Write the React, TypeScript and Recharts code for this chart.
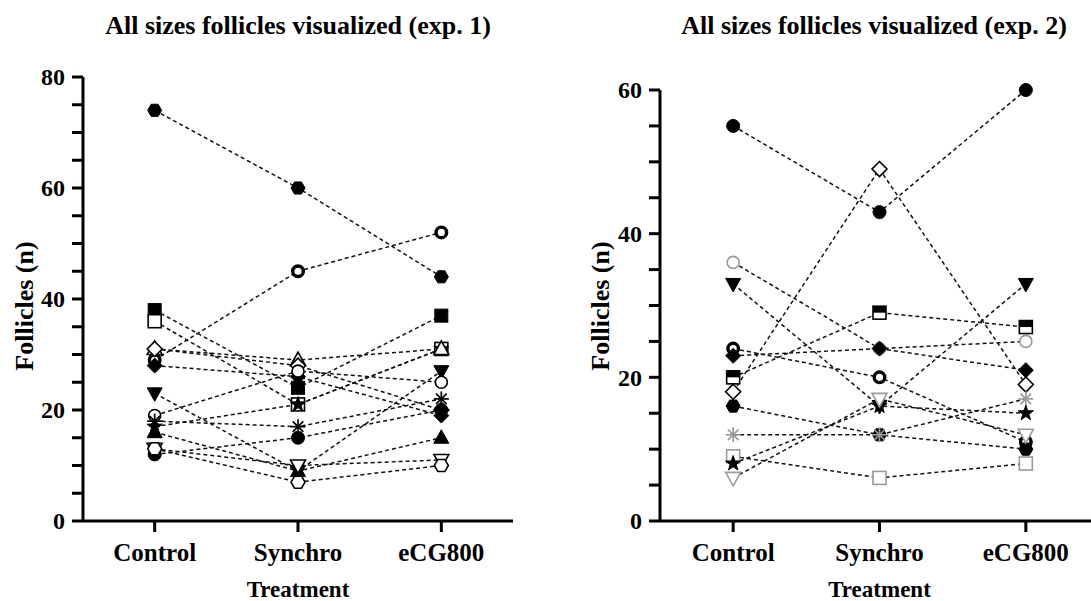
import { Label, Line, LineChart, XAxis, YAxis } from 'recharts'

const TREATMENTS = ['Control', 'Synchro', 'eCG800']

// exp. 1 — one array per animal: Control, Synchro, eCG800
const E1_FILLED_HEX = [74, 60, 44]
const E1_THICK_RING = [29, 45, 52]
const E1_FILLED_SQUARE = [38, 24, 37]
const E1_OPEN_SQUARE = [36, 21, 31]
const E1_STAR = [17, 21, 31]
const E1_OPEN_TRIANGLE = [31, 29, 31]
const E1_OPEN_DIAMOND = [31, 28, 20]
const E1_FILLED_DIAMOND = [28, 26, 19]
const E1_FILLED_INV_TRI = [23, 9, 27]
const E1_OPEN_CIRCLE = [19, 27, 25]
const E1_ASTERISK = [18, 17, 22]
const E1_FILLED_CIRCLE = [12, 15, 20]
const E1_FILLED_TRIANGLE = [16, 9, 15]
const E1_OPEN_INV_TRI = [13, 10, 11]
const E1_OPEN_HEX = [13, 7, 10]

// exp. 2
const E2_FILLED_CIRCLE = [55, 43, 60]
const E2_OPEN_DIAMOND = [18, 49, 19]
const E2_FILLED_INV_TRI = [33, 16, 33]
const E2_GRAY_CIRCLE = [36, 24, 25]
const E2_THICK_RING = [24, 20, 11]
const E2_FILLED_DIAMOND = [23, 24, 21]
const E2_HALF_SQUARE = [20, 29, 27]
const E2_FILLED_HEX = [16, 12, 10]
const E2_GRAY_ASTERISK = [12, 12, 17]
const E2_GRAY_SQUARE = [9, 6, 8]
const E2_STAR = [8, 16, 15]
const E2_GRAY_INV_TRI = [6, 17, 12]

const E1_Y_TICKS = [0, 5, 10, 15, 20, 25, 30, 35, 40, 45, 50, 55, 60, 65, 70, 75, 80]
const E2_Y_TICKS = [0, 5, 10, 15, 20, 25, 30, 35, 40, 45, 50, 55, 60]
const LABELED_EVERY = 20

const BLACK = '#000'
const GRAY = '#9a9a9a'
const FONT = "'Liberation Serif', 'Times New Roman', serif"

type Shape =
  | 'circle' | 'ring' | 'thickRing' | 'square' | 'openSquare' | 'halfSquare'
  | 'triangle' | 'openTriangle' | 'invTriangle' | 'openInvTriangle'
  | 'diamond' | 'openDiamond' | 'hexagon' | 'openHexagon' | 'star' | 'asterisk'

type Series = { key: string; values: number[]; shape: Shape; color?: string }

const EXP1: Series[] = [
  { key: 'fhex', values: E1_FILLED_HEX, shape: 'hexagon' },
  { key: 'tring', values: E1_THICK_RING, shape: 'thickRing' },
  { key: 'fsq', values: E1_FILLED_SQUARE, shape: 'square' },
  { key: 'osq', values: E1_OPEN_SQUARE, shape: 'openSquare' },
  { key: 'star', values: E1_STAR, shape: 'star' },
  { key: 'otri', values: E1_OPEN_TRIANGLE, shape: 'openTriangle' },
  { key: 'odia', values: E1_OPEN_DIAMOND, shape: 'openDiamond' },
  { key: 'fdia', values: E1_FILLED_DIAMOND, shape: 'diamond' },
  { key: 'finv', values: E1_FILLED_INV_TRI, shape: 'invTriangle' },
  { key: 'ocir', values: E1_OPEN_CIRCLE, shape: 'ring' },
  { key: 'ast', values: E1_ASTERISK, shape: 'asterisk' },
  { key: 'fcir', values: E1_FILLED_CIRCLE, shape: 'circle' },
  { key: 'ftri', values: E1_FILLED_TRIANGLE, shape: 'triangle' },
  { key: 'oinv', values: E1_OPEN_INV_TRI, shape: 'openInvTriangle' },
  { key: 'ohex', values: E1_OPEN_HEX, shape: 'openHexagon' },
]

const EXP2: Series[] = [
  { key: 'fcir', values: E2_FILLED_CIRCLE, shape: 'circle' },
  { key: 'odia', values: E2_OPEN_DIAMOND, shape: 'openDiamond' },
  { key: 'finv', values: E2_FILLED_INV_TRI, shape: 'invTriangle' },
  { key: 'gcir', values: E2_GRAY_CIRCLE, shape: 'ring', color: GRAY },
  { key: 'tring', values: E2_THICK_RING, shape: 'thickRing' },
  { key: 'fdia', values: E2_FILLED_DIAMOND, shape: 'diamond' },
  { key: 'hsq', values: E2_HALF_SQUARE, shape: 'halfSquare' },
  { key: 'fhex', values: E2_FILLED_HEX, shape: 'hexagon' },
  { key: 'gast', values: E2_GRAY_ASTERISK, shape: 'asterisk', color: GRAY },
  { key: 'gsq', values: E2_GRAY_SQUARE, shape: 'openSquare', color: GRAY },
  { key: 'star', values: E2_STAR, shape: 'star' },
  { key: 'ginv', values: E2_GRAY_INV_TRI, shape: 'openInvTriangle', color: GRAY },
]

function buildRows(series: Series[]) {
  return TREATMENTS.map((treatment, i) => {
    const row: Record<string, number | string> = { x: i, treatment }
    series.forEach((s) => {
      row[s.key] = s.values[i]
    })
    return row
  })
}

function poly(pts: number[][]) {
  return pts.map((p) => p.join(',')).join(' ')
}

function Marker({ cx, cy, shape, color }: { cx: number; cy: number; shape: Shape; color: string }) {
  const open = { fill: '#fff', stroke: color, strokeWidth: 1.6 }
  const solid = { fill: color, stroke: color, strokeWidth: 1 }
  switch (shape) {
    case 'circle':
      return <circle cx={cx} cy={cy} r={6.5} {...solid} />
    case 'ring':
      return <circle cx={cx} cy={cy} r={6} {...open} />
    case 'thickRing':
      return <circle cx={cx} cy={cy} r={5.3} fill="#fff" stroke={color} strokeWidth={3.4} />
    case 'square':
      return <rect x={cx - 6.5} y={cy - 6.5} width={13} height={13} {...solid} />
    case 'openSquare':
      return <rect x={cx - 6.5} y={cy - 6.5} width={13} height={13} {...open} />
    case 'halfSquare':
      return (
        <g>
          <rect x={cx - 6.5} y={cy - 6.5} width={13} height={13} {...open} />
          <rect x={cx - 6.5} y={cy - 6.5} width={13} height={6.5} fill={color} />
        </g>
      )
    case 'triangle':
      return <polygon points={poly([[cx, cy - 8], [cx + 7.5, cy + 5.5], [cx - 7.5, cy + 5.5]])} {...solid} />
    case 'openTriangle':
      return <polygon points={poly([[cx, cy - 8], [cx + 7.5, cy + 5.5], [cx - 7.5, cy + 5.5]])} {...open} />
    case 'invTriangle':
      return <polygon points={poly([[cx - 7.5, cy - 5.5], [cx + 7.5, cy - 5.5], [cx, cy + 8]])} {...solid} />
    case 'openInvTriangle':
      return <polygon points={poly([[cx - 7.5, cy - 5.5], [cx + 7.5, cy - 5.5], [cx, cy + 8]])} {...open} />
    case 'diamond':
      return <polygon points={poly([[cx, cy - 7.5], [cx + 7.5, cy], [cx, cy + 7.5], [cx - 7.5, cy]])} {...solid} />
    case 'openDiamond':
      return <polygon points={poly([[cx, cy - 7.5], [cx + 7.5, cy], [cx, cy + 7.5], [cx - 7.5, cy]])} {...open} />
    case 'hexagon':
    case 'openHexagon': {
      const pts = [0, 1, 2, 3, 4, 5].map((k) => {
        const a = (Math.PI / 3) * k
        return [cx + 7 * Math.cos(a), cy + 7 * Math.sin(a)]
      })
      return <polygon points={poly(pts)} {...(shape === 'hexagon' ? solid : open)} />
    }
    case 'star': {
      const pts = Array.from({ length: 10 }, (_, k) => {
        const a = -Math.PI / 2 + (Math.PI / 5) * k
        const rr = k % 2 === 0 ? 8 : 3.2
        return [cx + rr * Math.cos(a), cy + rr * Math.sin(a)]
      })
      return <polygon points={poly(pts)} {...solid} />
    }
    case 'asterisk':
      return (
        <g stroke={color} strokeWidth={1.7}>
          {[0, 45, 90, 135].map((deg) => {
            const a = (deg * Math.PI) / 180
            const dx = 7.5 * Math.cos(a)
            const dy = 7.5 * Math.sin(a)
            return <line key={deg} x1={cx - dx} y1={cy - dy} x2={cx + dx} y2={cy + dy} />
          })}
        </g>
      )
    default:
      return <g />
  }
}

function makeDot(s: Series) {
  return (props: any) => {
    const { cx, cy, index } = props
    if (cx == null || cy == null) return <g key={`${s.key}-${index}`} />
    return (
      <g key={`${s.key}-${index}`}>
        <Marker cx={cx} cy={cy} shape={s.shape} color={s.color ?? BLACK} />
      </g>
    )
  }
}

const YTick = (props: any) => {
  const { x, y, payload } = props
  if (payload.value % LABELED_EVERY !== 0) return <g />
  return (
    <text x={x} y={y} dy="0.35em" textAnchor="end" fill="#000"
      style={{ fontFamily: FONT, fontWeight: 700, fontSize: 24 }}>
      {payload.value}
    </text>
  )
}

const XTick = (props: any) => {
  const { x, y, payload } = props
  return (
    <text x={x} y={y} dy="0.71em" textAnchor="middle" fill="#000"
      style={{ fontFamily: FONT, fontWeight: 700, fontSize: 25 }}>
      {TREATMENTS[payload.value]}
    </text>
  )
}

function YTitle({ x }: { x: number }) {
  return (
    <text x={x} y={306} transform={`rotate(-90 ${x} 306)`} textAnchor="middle" dy="0.35em" fill="#000"
      style={{ fontFamily: FONT, fontWeight: 700, fontSize: 26 }}>
      Follicles (n)
    </text>
  )
}

function XTitle(props: any) {
  const { viewBox } = props
  const cx = viewBox.x + viewBox.width / 2
  return (
    <text x={cx} y={597} textAnchor="middle" fill="#000"
      style={{ fontFamily: FONT, fontWeight: 700, fontSize: 23 }}>
      Treatment
    </text>
  )
}

const axisStroke = { stroke: '#000', strokeWidth: 3 }

function Panel({
  series, yMax, yTicks, width, top, right, left, labelX,
}: {
  series: Series[]; yMax: number; yTicks: number[]; width: number
  top: number; right: number; left: number; labelX: number
}) {
  const rows = buildRows(series)
  return (
    <LineChart width={width} height={601} data={rows} margin={{ top, right, bottom: 0, left }}>
      <XAxis
        type="number"
        dataKey="x"
        domain={[-0.5, 2.5]}
        ticks={[0, 1, 2]}
        height={80}
        tickSize={11}
        tickMargin={11}
        axisLine={axisStroke}
        tickLine={axisStroke}
        tick={<XTick />}
      >
        <Label content={(p: any) => <XTitle {...p} />} />
      </XAxis>
      <YAxis
        type="number"
        domain={[0, yMax]}
        ticks={yTicks}
        width={60}
        tickSize={11}
        tickMargin={7}
        axisLine={axisStroke}
        tickLine={axisStroke}
        tick={<YTick />}
        interval={0}
      >
        <Label content={() => <YTitle x={labelX} />} />
      </YAxis>
      {series.map((s) => (
        <Line
          key={s.key}
          dataKey={s.key}
          type="linear"
          stroke="#111"
          strokeWidth={1.5}
          strokeDasharray="4 3"
          dot={makeDot(s)}
          activeDot={false}
          isAnimationActive={false}
        />
      ))}
    </LineChart>
  )
}

const titleStyle = {
  position: 'absolute' as const,
  top: 13,
  textAlign: 'center' as const,
  fontFamily: FONT,
  fontWeight: 700,
  fontSize: 26,
  lineHeight: '26px',
  color: '#000',
  whiteSpace: 'nowrap' as const,
}

export default function App() {
  return (
    <div style={{ position: 'fixed', left: 0, top: 0, width: 1091, height: 601, overflow: 'hidden', background: '#fff' }}>
      <div style={{ ...titleStyle, left: 98, width: 400 }}>All sizes follicles visualized (exp. 1)</div>
      <div style={{ ...titleStyle, left: 674, width: 400 }}>All sizes follicles visualized (exp. 2)</div>
      <div style={{ position: 'absolute', left: 0, top: 0 }}>
        <Panel series={EXP1} yMax={80} yTicks={E1_Y_TICKS} width={540} top={77} right={27} left={23} labelX={24} />
      </div>
      <div style={{ position: 'absolute', left: 560, top: 0 }}>
        <Panel series={EXP2} yMax={60} yTicks={E2_Y_TICKS} width={560} top={90} right={21} left={40} labelX={40} />
      </div>
    </div>
  )
}
